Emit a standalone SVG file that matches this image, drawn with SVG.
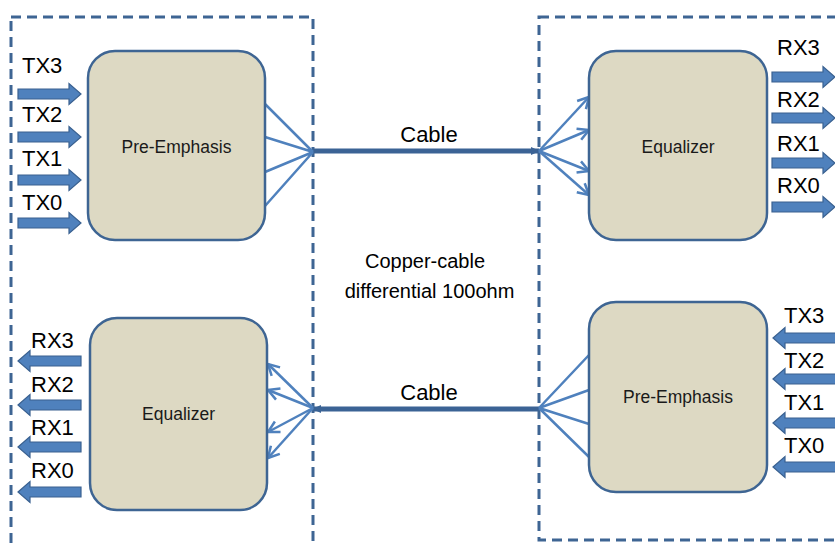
<svg xmlns="http://www.w3.org/2000/svg" xmlns:xlink="http://www.w3.org/1999/xlink" width="835" height="547" viewBox="0 0 835 547">
<style>
.frame{fill:none;stroke:#3E6593;stroke-width:3;stroke-dasharray:10 6}
.box{fill:#DDD9C3;stroke:#3E6593;stroke-width:2.5}
.blk{fill:#4F81BD;stroke:#3A6190;stroke-width:1.2}
.fan{fill:none;stroke:#4F81BD;stroke-width:2.5}
.cable{fill:none;stroke:#3B6395;stroke-width:5}
.t{font-family:"Liberation Sans",Arial,sans-serif;fill:#000}
.lbl{font-size:22px}
.nm{font-size:17.5px;fill:#1a1a1a;text-anchor:middle}
.cap{font-size:22px;text-anchor:middle}
.note{font-size:20px;text-anchor:middle}
</style>
<defs>
<path id="ra" d="M0,-5 H51 V-10.5 L63,0 L51,10.5 V5 H0 Z"/>
<path id="la" d="M0,0 L12,-10.5 V-5 H63 V5 H12 V10.5 Z"/>
<marker id="vh" markerUnits="userSpaceOnUse" markerWidth="16" markerHeight="16" refX="12" refY="7" orient="auto" viewBox="0 0 16 14">
<path d="M1,1 L12,7 L1,13" fill="none" stroke="#4F81BD" stroke-width="2.5"/>
</marker>
<marker id="ch" markerUnits="userSpaceOnUse" markerWidth="10" markerHeight="10" refX="8" refY="5" orient="auto" viewBox="0 0 10 10">
<path d="M0,1 L9,5 L0,9 Z" fill="#3B6395"/>
</marker>
</defs>
<rect width="835" height="547" fill="#fff"/>
<g id="frames">
<rect class="frame" x="11" y="17" width="302" height="545"/>
<rect class="frame" x="539" y="17" width="310" height="523"/>
</g>
<g id="connectors">
<line class="cable" x1="313" y1="151" x2="539" y2="151" marker-end="url(#ch)"/>
<line class="cable" x1="539" y1="409" x2="313" y2="409" marker-end="url(#ch)"/>
<path class="fan" d="M265,104 L313,152 M265,137 L313,152 M265,172 L313,152 M265,206 L313,152"/>
<line class="fan" x1="539" y1="151" x2="589" y2="97" marker-end="url(#vh)"/>
<line class="fan" x1="539" y1="151" x2="589" y2="130" marker-end="url(#vh)"/>
<line class="fan" x1="539" y1="151" x2="589" y2="171" marker-end="url(#vh)"/>
<line class="fan" x1="539" y1="151" x2="589" y2="195" marker-end="url(#vh)"/>
<line class="fan" x1="313" y1="408" x2="268" y2="364" marker-end="url(#vh)"/>
<line class="fan" x1="313" y1="408" x2="268" y2="390" marker-end="url(#vh)"/>
<line class="fan" x1="313" y1="408" x2="268" y2="432" marker-end="url(#vh)"/>
<line class="fan" x1="313" y1="408" x2="268" y2="458" marker-end="url(#vh)"/>
<path class="fan" d="M589,355 L539,408 M589,390 L539,408 M589,424 L539,408 M589,457 L539,408"/>
</g>
<g id="preemph-tl">
<rect class="box" x="88" y="51" width="177" height="189" rx="27"/>
<text class="t nm" x="176.5" y="153">Pre-Emphasis</text>
</g>
<g id="equalizer-tr">
<rect class="box" x="589" y="51" width="178" height="189" rx="27"/>
<text class="t nm" x="678" y="153">Equalizer</text>
</g>
<g id="equalizer-bl">
<rect class="box" x="90" y="318" width="177" height="192" rx="27"/>
<text class="t nm" x="178.5" y="420">Equalizer</text>
</g>
<g id="preemph-br">
<rect class="box" x="589" y="302" width="178" height="190" rx="27"/>
<text class="t nm" x="678" y="403">Pre-Emphasis</text>
</g>
<g id="tx-left">
<text class="t lbl" x="22" y="73">TX3</text>
<text class="t lbl" x="22" y="122">TX2</text>
<text class="t lbl" x="22" y="166">TX1</text>
<text class="t lbl" x="22" y="210">TX0</text>
<use xlink:href="#ra" class="blk" x="18" y="94"/>
<use xlink:href="#ra" class="blk" x="18" y="137"/>
<use xlink:href="#ra" class="blk" x="18" y="180"/>
<use xlink:href="#ra" class="blk" x="18" y="223"/>
</g>
<g id="rx-right">
<text class="t lbl" x="777" y="55">RX3</text>
<text class="t lbl" x="777" y="107">RX2</text>
<text class="t lbl" x="777" y="151">RX1</text>
<text class="t lbl" x="777" y="193">RX0</text>
<use xlink:href="#ra" class="blk" x="772" y="77"/>
<use xlink:href="#ra" class="blk" x="772" y="118"/>
<use xlink:href="#ra" class="blk" x="772" y="163"/>
<use xlink:href="#ra" class="blk" x="772" y="207"/>
</g>
<g id="rx-left">
<text class="t lbl" x="31" y="348">RX3</text>
<text class="t lbl" x="31" y="392">RX2</text>
<text class="t lbl" x="31" y="435">RX1</text>
<text class="t lbl" x="31" y="478">RX0</text>
<use xlink:href="#la" class="blk" x="18" y="361"/>
<use xlink:href="#la" class="blk" x="18" y="405"/>
<use xlink:href="#la" class="blk" x="18" y="447"/>
<use xlink:href="#la" class="blk" x="18" y="492"/>
</g>
<g id="tx-right">
<text class="t lbl" x="784" y="323">TX3</text>
<text class="t lbl" x="784" y="368">TX2</text>
<text class="t lbl" x="784" y="410">TX1</text>
<text class="t lbl" x="784" y="453">TX0</text>
<use xlink:href="#la" class="blk" x="773" y="338"/>
<use xlink:href="#la" class="blk" x="773" y="379"/>
<use xlink:href="#la" class="blk" x="773" y="423"/>
<use xlink:href="#la" class="blk" x="773" y="467"/>
</g>
<g id="labels">
<text class="t cap" x="429" y="142">Cable</text>
<text class="t cap" x="429" y="400">Cable</text>
<text class="t note" x="425" y="268">Copper-cable</text>
<text class="t note" x="429.5" y="298">differential 100ohm</text>
</g>
</svg>
